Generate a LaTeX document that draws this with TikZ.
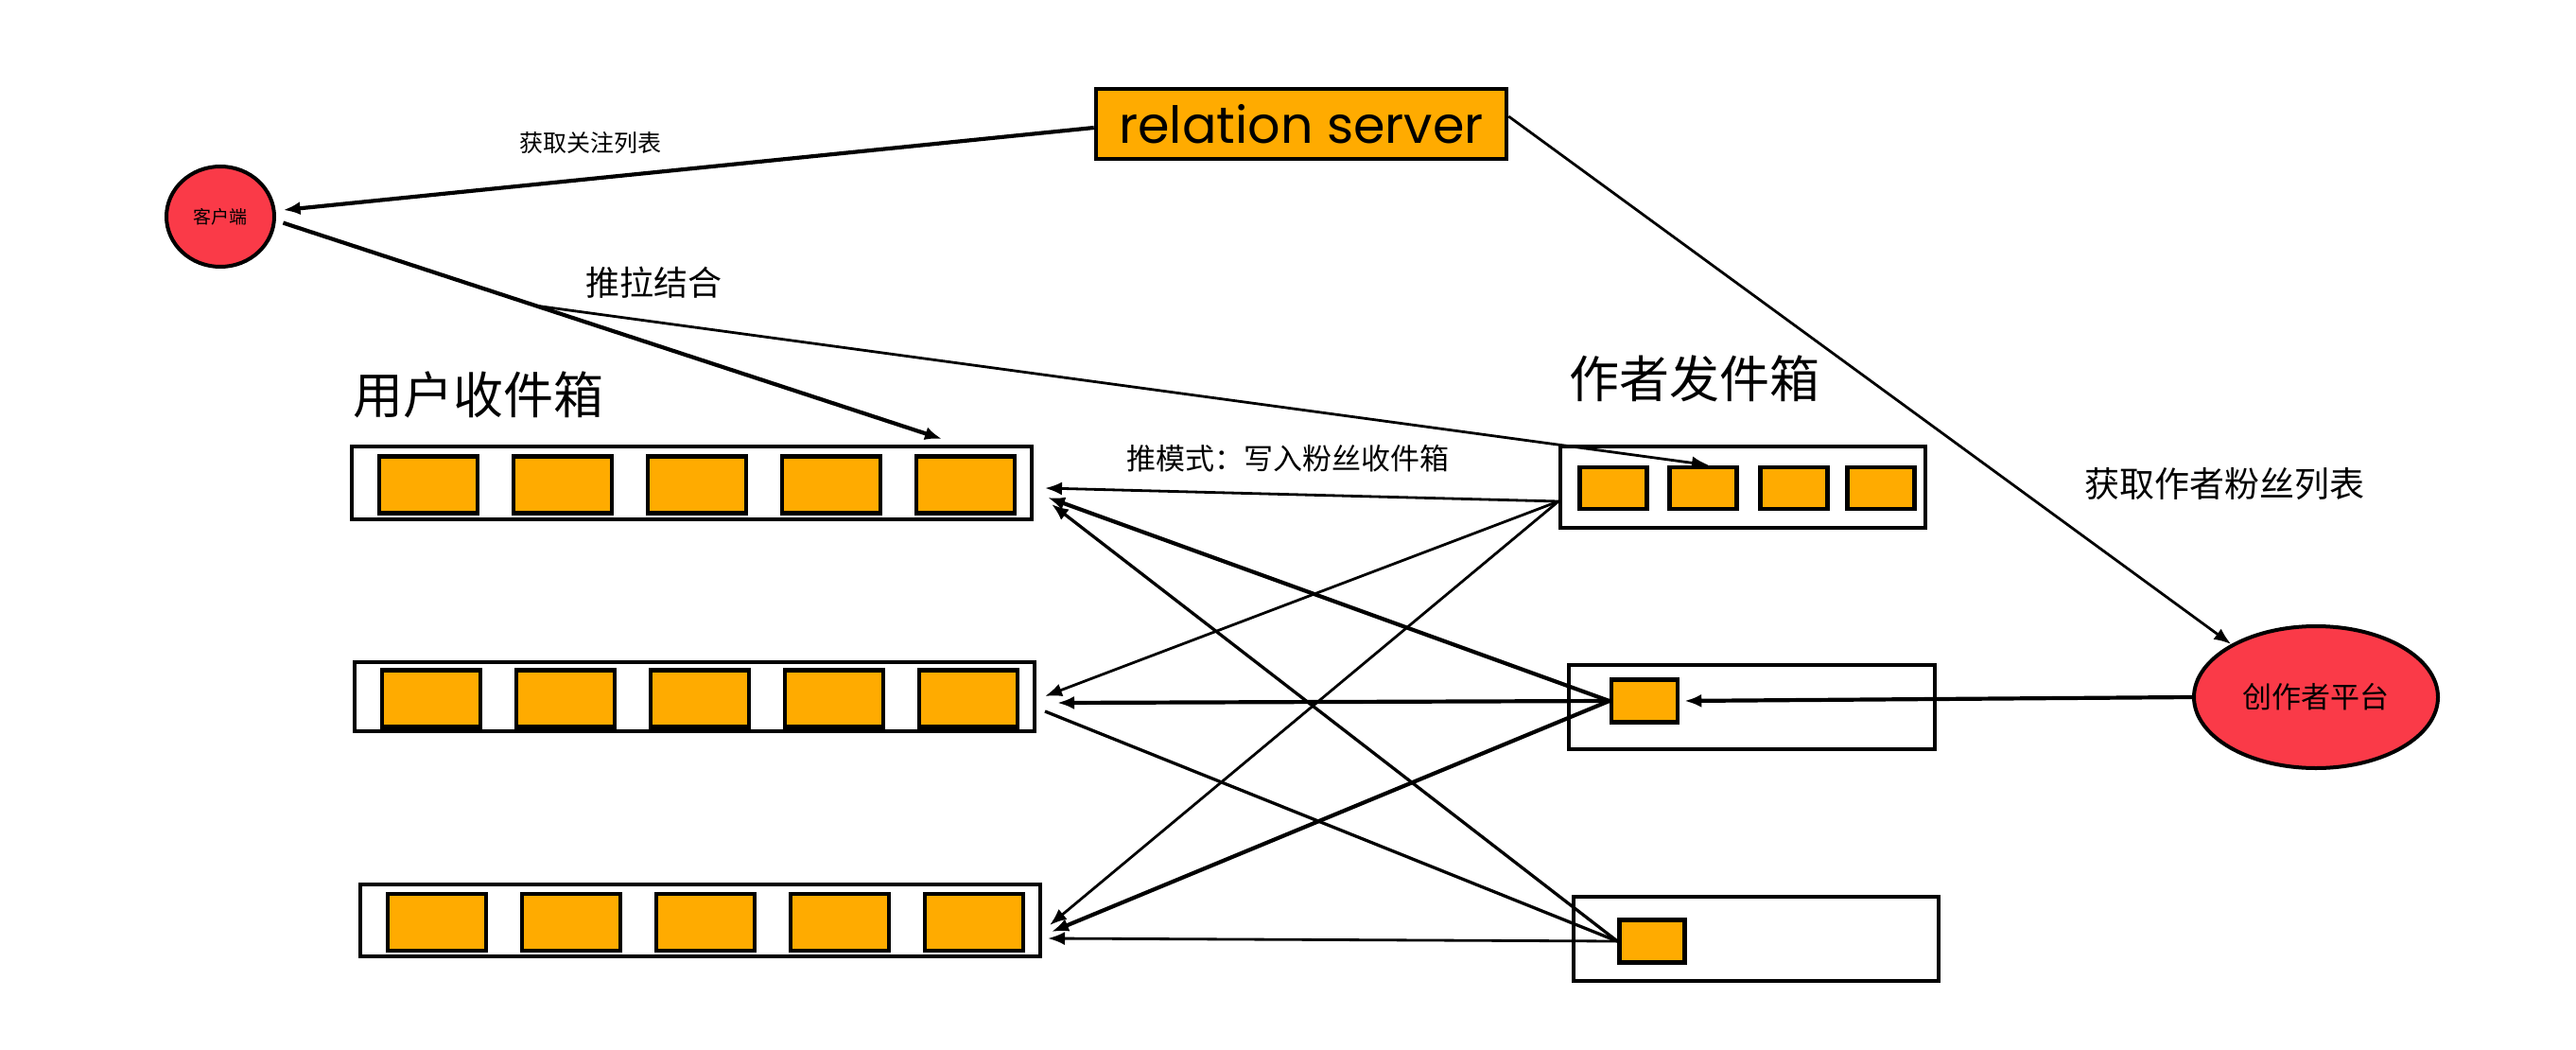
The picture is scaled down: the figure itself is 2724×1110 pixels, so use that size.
\documentclass[tikz,border=0pt]{standalone}
\usepackage{fontspec}
\setmainfont{Noto Sans CJK SC}
\newfontfamily\handfont{Poppins}
\usetikzlibrary{arrows.meta,shapes.geometric}
\definecolor{boxorange}{RGB}{255,171,0}
\definecolor{nodered}{RGB}{250,58,72}
\newcommand{\fs}[1]{\fontsize{#1}{#1}\selectfont}
\tikzset{
  boxframe/.style={draw,rectangle,line width=4pt,inner sep=0pt},
  slot/.style={draw,rectangle,line width=4.5pt,fill=boxorange,inner sep=0pt},
  srvbox/.style={draw,rectangle,line width=4.5pt,fill=boxorange,inner sep=0pt,minimum width=434pt,minimum height=74pt},
  disc/.style={draw,ellipse,line width=4pt,fill=nodered,inner sep=0pt},
  lbl/.style={inner sep=0pt},
  arrthin/.style={line width=2.8pt,-{Latex[length=18pt,width=14pt]}},
  arrmid/.style={line width=3.3pt,-{Latex[length=18pt,width=14pt]}},
  arrthick/.style={line width=4.2pt,-{Latex[length=18pt,width=14pt]}}
}
\begin{document}
\begin{tikzpicture}[x=1pt,y=-1pt]%push-pull feed
\useasboundingbox (0,0) rectangle (2724,1110);
\node[srvbox] (rel) at (1376,131) {\handfont\fs{54}relation server};
\node[disc,minimum width=114pt,minimum height=106pt] (cli) at (233,229) {\fs{19}客户端};
\node[disc,minimum width=258pt,minimum height=150pt] (cre) at (2449,737) {\fs{31}创作者平台};
\node[lbl] (follow) at (624,151) {\fs{25}获取关注列表};
\node[lbl] (mixlbl) at (691,299) {\fs{36}推拉结合};
\node[lbl] (inlbl) at (506,417) {\fs{53}用户收件箱};
\node[lbl] (outlbl) at (1792,400) {\fs{53}作者发件箱};
\node[lbl] (fans) at (2352,512) {\fs{37}获取作者粉丝列表};
\node[lbl] (pushlbl) at (1362,485) {\fs{31}推模式：写入粉丝收件箱};
% user inboxes
\foreach \n/\x/\y/\h in {1/731.5/510.5/77, 2/734.5/736.5/73, 3/740.5/973/76}{
  \node[boxframe,minimum width=719pt,minimum height=\h pt] (in\n) at (\x,\y) {};
  \foreach \i in {1,...,5}
    \node[slot,minimum width=104pt,minimum height=60pt] (in\n-\i) at (\x-359.5+81+142*\i-142,\y+2) {};
}
% author outboxes
\node[boxframe,minimum width=386pt,minimum height=86pt] (out1) at (1843,515) {};
\foreach \i/\x in {1/1706,2/1801,3/1897,4/1989}
  \node[slot,minimum width=71pt,minimum height=44pt] (out1-\i) at (\x,516) {};
\node[boxframe,minimum width=387pt,minimum height=89pt] (out2) at (1852.5,747.5) {};
\node[slot,minimum width=70pt,minimum height=45pt] (out2-1) at (1739,741) {};
\node[boxframe,minimum width=386pt,minimum height=89pt] (out3) at (1857,992.5) {};
\node[slot,minimum width=69pt,minimum height=45pt] (out3-1) at (1747,995) {};
% pull side
\draw[arrthick,shorten >=8pt] ([yshift=-4pt]rel.west) -- (cli.6);
\draw[arrthick,shorten <=8pt] (cli.-4) -- coordinate[pos=0.39] (mix) ([xshift=-97pt,yshift=6pt]in1.north east);
\draw[arrthin] (mix) -- ([xshift=6pt]out1-2.north);
\draw[arrthin] ([yshift=8pt]rel.east) -- (cre.148);
\draw[arrthick,shorten >=5pt] (cre.west) -- (out2-1.east);
% push side
\coordinate (src1) at ([yshift=-15pt]out1.west);
\coordinate (t11) at (1105,516);
\coordinate (t12) at (1108,526);
\coordinate (t13) at (1112,533);
\coordinate (t21) at (1105,736);
\coordinate (t22) at (1118,743);
\coordinate (t23) at (1105,752);
\coordinate (t31) at (1110,978);
\coordinate (t32) at (1112,985);
\coordinate (t33) at (1108,992);
\foreach \t in {t11,t21,t31}
  \draw[arrthin] (src1) -- (\t);
\foreach \t in {t12,t22,t32}
  \draw[arrthick] (out2-1.west) -- (\t);
\draw[arrmid] (out3-1.west) -- (t13);
\draw[line width=3.3pt] (out3-1.west) -- (t23);
\draw[arrthin] (out3-1.west) -- (t33);
\end{tikzpicture}
\end{document}
